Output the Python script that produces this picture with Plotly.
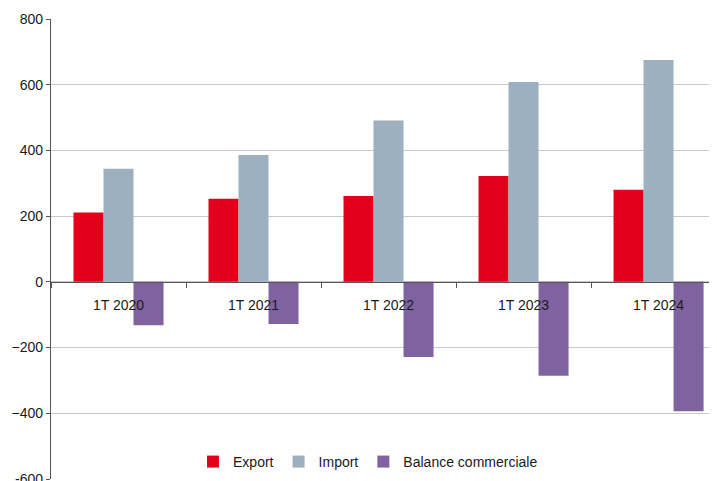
import plotly.graph_objects as go

categories = ["1T 2020", "1T 2021", "1T 2022", "1T 2023", "1T 2024"]
export_vals = [211, 253, 261, 322, 280]
import_vals = [344, 386, 491, 608, 675]
balance_vals = [-132, -128, -229, -286, -394]
y_ticks = [-600, -400, -200, 0, 200, 400, 600, 800]

fig = go.Figure()
fig.add_bar(x=categories, y=export_vals, name="Export", marker=dict(color="#E2001A", line=dict(width=0)))
fig.add_bar(x=categories, y=import_vals, name="Import", marker=dict(color="#9DB0C0", line=dict(width=0)))
fig.add_bar(x=categories, y=balance_vals, name="Balance commerciale", marker=dict(color="#7F63A1", line=dict(width=0)))

y_min, y_max = -600, 800
zero_pos = (0 - y_min) / (y_max - y_min)

# page body has an 8px margin; figure sized so it fills the 717x481 window
fig.update_layout(
    width=709, height=473,
    margin=dict(l=43, r=0, t=11, b=2, autoexpand=False),
    paper_bgcolor="white", plot_bgcolor="white",
    barmode="group", bargap=0.333, bargroupgap=0,
    font=dict(family="Liberation Sans, Arial, sans-serif", size=14, color="#1a1a1a"),
    showlegend=True,
    legend=dict(orientation="h", x=0.476, xanchor="center", y=0.037, yanchor="middle",
                bgcolor="rgba(0,0,0,0)", font=dict(size=14), itemwidth=30,
                traceorder="normal"),
    xaxis=dict(
        range=[-0.5, 4.433], anchor="free", position=zero_pos, automargin=False,
        showline=True, linecolor="#555555", linewidth=1.3,
        ticks="outside", tickson="boundaries", ticklen=5, tickcolor="#555555",
        ticklabelstandoff=10, showgrid=False, zeroline=False,
        tickfont=dict(size=14),
    ),
    yaxis=dict(
        range=[y_min, y_max], tickvals=y_ticks, automargin=False,
        showline=True, linecolor="#555555", linewidth=1.3,
        ticks="outside", ticklen=4, tickcolor="#555555",
        showgrid=True, gridcolor="#c8c8c8", gridwidth=1,
        zeroline=False, tickfont=dict(size=14),
    ),
)

# bottom tick label that plotly drops at the figure edge (half cut, as in the reference)
fig.add_annotation(x=0, xref="paper", xanchor="right", xshift=-6,
                   y=y_ticks[0], yref="y", yanchor="middle",
                   text=str(y_ticks[0]), showarrow=False, font=dict(size=14))

fig.write_html("out.html")
